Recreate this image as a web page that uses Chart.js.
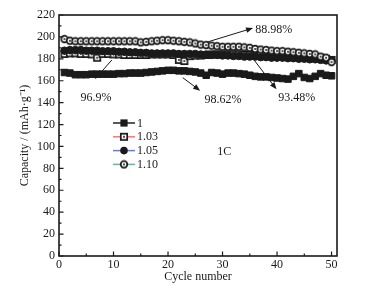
<!DOCTYPE html>
<html>
<head>
<meta charset="utf-8">
<script src="https://cdn.jsdelivr.net/npm/chart.js@4.4.1/dist/chart.umd.min.js"></script>
<style>
  html, body { margin: 0; padding: 0; background: #fff; }
  #wrap { width: 368px; height: 289px; }
</style>
</head>
<body>
<div id="wrap"><canvas id="chart"></canvas></div>
<script>
// cycle numbers
const cycles = [1, 2, 3, 4, 5, 6, 7, 8, 9, 10, 11, 12, 13, 14, 15, 16, 17, 18, 19, 20,
  21, 22, 23, 24, 25, 26, 27, 28, 29, 30, 31, 32, 33, 34, 35, 36, 37, 38, 39, 40,
  41, 42, 43, 44, 45, 46, 47, 48, 49, 50];

// capacity, mAh/g
const cap100 = [167.5, 167, 165.5, 165.5, 165.5, 166, 166, 166, 166, 166, 166.5, 166.5, 167, 167, 167, 167.5, 168, 168.5, 169, 169.5,
  169.5, 169, 169, 168.5, 168, 167, 165, 167.5, 167, 166, 167, 167, 166.5, 166, 165, 164, 163.5, 163.5, 163, 162.5,
  162, 161.5, 164, 166.5, 163, 162, 164, 166.5, 165, 164.5];
const cap103 = [184.5, 185, 185, 184.5, 184.5, 184, 181, 184.5, 184.5, 184, 184, 183.5, 183.5, 183.5, 183.5, 183.5, 184, 184, 184, 184,
  183.5, 179, 178, 182.5, 183, 183, 183.5, 184, 184, 184, 184, 184, 184, 183.5, 183.5, 183.5, 183.5, 183, 183, 183,
  183, 182.5, 182.5, 182, 182, 181.5, 181.5, 181, 180, 179];
const cap105 = [187.5, 188, 188, 188, 187.5, 187.5, 187.5, 187, 187, 187, 186.5, 186.5, 186, 186, 185.5, 185.5, 185, 185, 185, 185,
  185, 184.5, 184.5, 184.5, 184.5, 184, 184, 183.5, 183.5, 183, 183, 182.5, 182.5, 182, 182, 182, 181.5, 181.5, 181, 181,
  181, 180.5, 180.5, 180, 180, 179.5, 179.5, 179, 178.5, 178];
const cap110 = [198, 196.5, 196, 196, 196, 196, 196, 196, 196, 196, 196, 196, 196, 196, 195, 195.5, 196, 196.5, 197, 197,
  196.5, 196, 195.5, 195, 194, 193, 192.5, 192, 191.5, 191, 191, 191, 191, 190.5, 190, 189, 188.5, 188, 187.5, 187,
  187, 186.5, 186, 185.5, 185, 184.5, 184, 182, 181, 177];

const seriesNames = ['1', '1.03', '1.05', '1.10'];
const legendColors = ['#222222', '#ef7a78', '#6b7fcf', '#6aaea4'];

const xTicks = [0, 10, 20, 30, 40, 50];
const yTicks = [0, 20, 40, 60, 80, 100, 120, 140, 160, 180, 200, 220];

// annotations: [text, textX, textY, arrowFromX, arrowFromY, arrowToX, arrowToY, align]
const notes = [
  ['88.98%', 36, 206.5, 27.2, 195.3, 35.6, 208.1, 'left'],
  ['96.9%', 6.8, 144.5, 9.7, 178.9, 6.6, 161.6, 'center'],
  ['98.62%', 30.1, 142.5, 22.7, 162.8, 25.9, 150.9, 'center'],
  ['93.48%', 43.6, 144, 35.7, 179.5, 39.9, 152.2, 'center']
];
const rateLabel = ['1C', 30.3, 95.2];

const FONT = '"Liberation Serif", "Times New Roman", serif';
const INK = '#1a1a1a';

function markerCanvas(kind) {
  const c = document.createElement('canvas');
  c.width = 10; c.height = 10;
  const g = c.getContext('2d');
  g.fillStyle = '#fff';
  g.strokeStyle = INK;
  g.lineWidth = 1.7;
  g.beginPath();
  if (kind === 'circle') g.arc(5, 5, 3.3, 0, Math.PI * 2);
  else g.rect(1.8, 1.8, 6.4, 6.4);
  g.fill();
  g.stroke();
  g.fillStyle = INK;
  g.beginPath();
  g.arc(5, 5, 1, 0, Math.PI * 2);
  g.fill();
  return c;
}
const openSquare = markerCanvas('square');
const openCircle = markerCanvas('circle');

const pts = (vals) => cycles.map((c, i) => ({ x: c, y: vals[i] }));

const pointStyles = ['rect', openSquare, 'circle', openCircle];
const pointRadius = [4.6, 4, 3.7, 4];

const datasets = [cap100, cap103, cap105, cap110].map((vals, i) => ({
  label: seriesNames[i],
  data: pts(vals),
  borderColor: legendColors[i],
  borderWidth: 1,
  pointStyle: pointStyles[i],
  pointRadius: pointRadius[i],
  pointBackgroundColor: INK,
  pointBorderColor: INK,
  pointBorderWidth: 1,
  order: 3 - i
}));

function drawArrow(ctx, x1, y1, x2, y2) {
  const ang = Math.atan2(y2 - y1, x2 - x1);
  const len = 7, half = 2.8;
  ctx.beginPath();
  ctx.moveTo(x1, y1);
  ctx.lineTo(x2 - Math.cos(ang) * len * 0.8, y2 - Math.sin(ang) * len * 0.8);
  ctx.stroke();
  ctx.beginPath();
  ctx.moveTo(x2, y2);
  ctx.lineTo(x2 - Math.cos(ang) * len - Math.sin(ang) * half, y2 - Math.sin(ang) * len + Math.cos(ang) * half);
  ctx.lineTo(x2 - Math.cos(ang) * len + Math.sin(ang) * half, y2 - Math.sin(ang) * len - Math.cos(ang) * half);
  ctx.closePath();
  ctx.fill();
}

const framePlugin = {
  id: 'frame',
  afterDatasetsDraw(chart) {
    const { ctx, chartArea: a, scales: { x, y } } = chart;
    ctx.save();
    ctx.strokeStyle = INK;
    ctx.fillStyle = INK;
    ctx.lineWidth = 1.6;
    ctx.strokeRect(a.left, a.top, a.right - a.left, a.bottom - a.top);
    // inward ticks
    ctx.lineWidth = 1.2;
    ctx.beginPath();
    for (let v = 0; v <= 50; v += 5) {
      const px = x.getPixelForValue(v);
      const l = v % 10 === 0 ? 4.5 : 2.5;
      ctx.moveTo(px, a.bottom); ctx.lineTo(px, a.bottom - l);
    }
    for (let v = 0; v <= 220; v += 10) {
      const py = y.getPixelForValue(v);
      const l = v % 20 === 0 ? 4.5 : 2.5;
      ctx.moveTo(a.left, py); ctx.lineTo(a.left + l, py);
    }
    ctx.stroke();

    // annotations
    ctx.font = '12px ' + FONT;
    ctx.textBaseline = 'middle';
    ctx.lineWidth = 1;
    notes.forEach(([t, tx, ty, fx, fy, ex, ey, al]) => {
      drawArrow(ctx, x.getPixelForValue(fx), y.getPixelForValue(fy), x.getPixelForValue(ex), y.getPixelForValue(ey));
      ctx.textAlign = al;
      ctx.fillText(t, x.getPixelForValue(tx), y.getPixelForValue(ty));
    });
    ctx.textAlign = 'center';
    ctx.fillText(rateLabel[0], x.getPixelForValue(rateLabel[1]), y.getPixelForValue(rateLabel[2]));

    // legend
    const lx = 113, lw = 22, ly0 = 123, dy = 13.8;
    seriesNames.forEach((name, i) => {
      const ly = ly0 + i * dy;
      ctx.strokeStyle = legendColors[i];
      ctx.lineWidth = 1.5;
      ctx.beginPath();
      ctx.moveTo(lx, ly); ctx.lineTo(lx + lw, ly);
      ctx.stroke();
      const cx = lx + lw / 2;
      ctx.fillStyle = INK;
      if (i === 0) ctx.fillRect(cx - 3.6, ly - 3.6, 7.2, 7.2);
      else if (i === 2) { ctx.beginPath(); ctx.arc(cx, ly, 3.8, 0, Math.PI * 2); ctx.fill(); }
      else ctx.drawImage(i === 1 ? openSquare : openCircle, cx - 5, ly - 5);
      ctx.textAlign = 'left';
      ctx.fillText(name, lx + lw + 2, ly + 0.5);
    });
    ctx.restore();
  }
};

new Chart(document.getElementById('chart'), {
  type: 'line',
  data: { datasets },
  plugins: [framePlugin],
  options: {
    responsive: true,
    maintainAspectRatio: false,
    animation: false,
    layout: { padding: { left: 18, right: 31, top: 15, bottom: 5 } },
    plugins: { legend: { display: false }, tooltip: { enabled: false } },
    scales: {
      x: {
        type: 'linear',
        min: 0,
        max: 51,
        afterBuildTicks: (s) => { s.ticks = xTicks.map((v) => ({ value: v })); },
        afterFit: (s) => { s.height = 28; },
        grid: { display: false, drawTicks: false },
        border: { display: false },
        ticks: { color: INK, padding: 2, font: { family: FONT, size: 12 } },
        title: { display: true, text: 'Cycle number', color: INK, padding: 0, font: { family: FONT, size: 12 } }
      },
      y: {
        min: 0,
        max: 220,
        afterBuildTicks: (s) => { s.ticks = yTicks.map((v) => ({ value: v })); },
        afterFit: (s) => { s.width = 41; },
        grid: { display: false, drawTicks: false },
        border: { display: false },
        ticks: { color: INK, padding: 4, font: { family: FONT, size: 12 } },
        title: { display: true, text: 'Capacity / (mAh·g⁻¹)', color: INK, padding: 0, font: { family: FONT, size: 12 } }
      }
    }
  }
});
</script>
</body>
</html>
